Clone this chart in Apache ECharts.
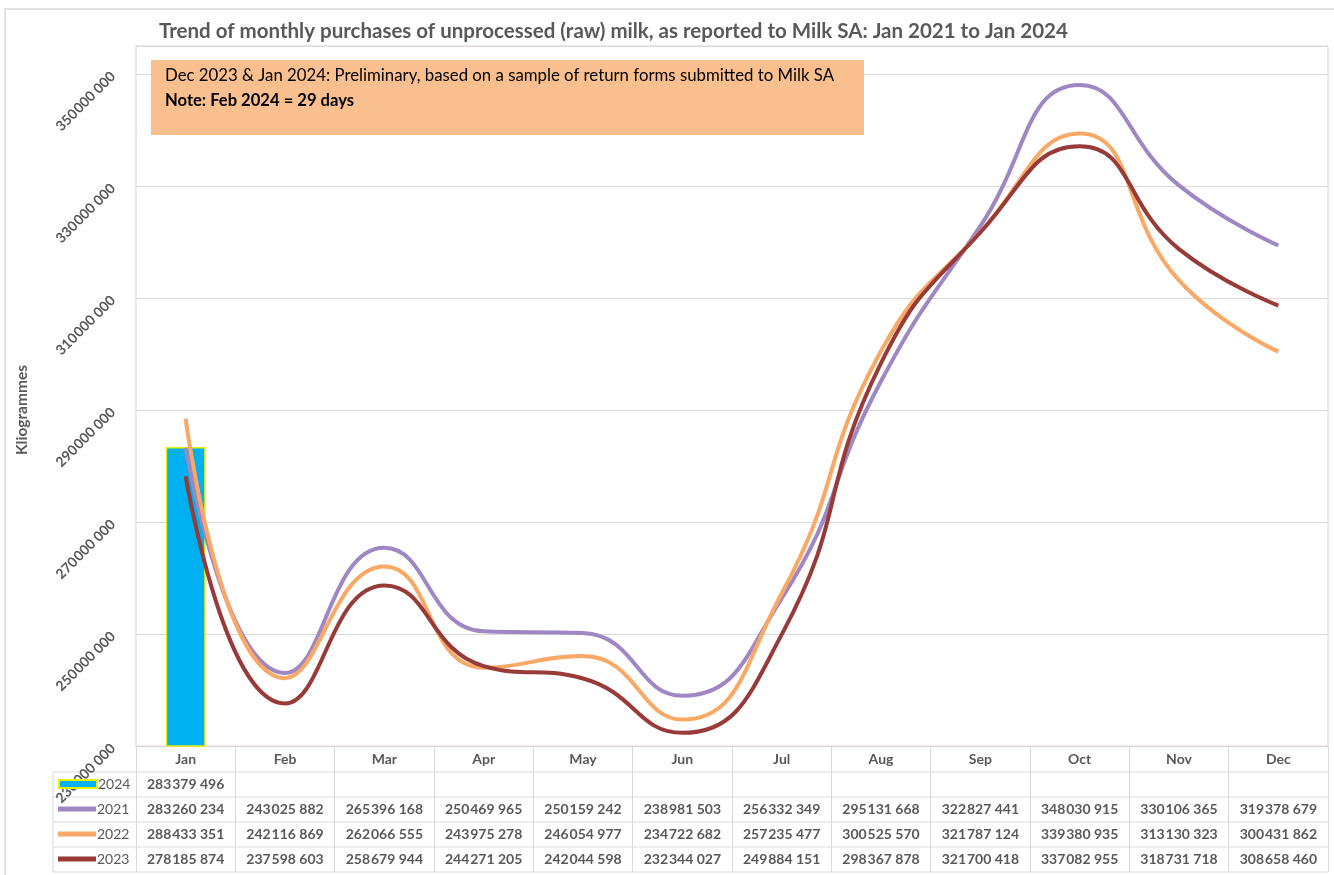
<!DOCTYPE html>
<html>
<head>
<meta charset="utf-8">
<script src="https://cdn.jsdelivr.net/npm/echarts@6/dist/echarts.min.js"></script>
<style>
  html, body { margin: 0; padding: 0; background: #fff; }
  #chart { width: 1334px; height: 875px; }
</style>
</head>
<body>
<div id="chart"></div>
<script>
// monthly raw milk purchases (kg)
var months = ['Jan', 'Feb', 'Mar', 'Apr', 'May', 'Jun', 'Jul', 'Aug', 'Sep', 'Oct', 'Nov', 'Dec'];
var y2024 = [283379496];
var y2021 = [283260234, 243025882, 265396168, 250469965, 250159242, 238981503, 256332349, 295131668, 322827441, 348030915, 330106365, 319378679];
var y2022 = [288433351, 242116869, 262066555, 243975278, 246054977, 234722682, 257235477, 300525570, 321787124, 339380935, 313130323, 300431862];
var y2023 = [278185874, 237598603, 258679944, 244271205, 242044598, 232344027, 249884151, 298367878, 321700418, 337082955, 318731718, 308658460];
var yMin = 230000000, yMax = 355000000, yStep = 20000000;

var grey = '#595959';
var font = 'Lato, "Open Sans", sans-serif';

function fmt(v) {
  if (v == null) return '\u00a0';
  var s = String(v);
  return s.slice(0, 3) + '\u200a' + s.slice(3, 6) + ' ' + s.slice(6);
}

var chart = echarts.init(document.getElementById('chart'));

// table row lines under the plot
var rowLines = [772, 797, 822, 847, 872].map(function(y) {
  return { type: 'line', shape: { x1: 53, y1: y, x2: 1328, y2: y }, style: { stroke: '#d9d9d9', lineWidth: 1 }, z: 0 };
});

function legendAt(top, name, h) {
  return {
    data: [name], left: 58, top: top, padding: 0,
    itemWidth: 38, itemHeight: h, itemGap: 0, icon: 'rect',
    textStyle: { color: grey, fontSize: 14, fontFamily: font, padding: [0, 0, 0, -4] },
    selectedMode: false
  };
}

var option = {
  animation: false,
  textStyle: { fontFamily: font },
  title: {
    text: 'Trend of monthly purchases of unprocessed (raw) milk, as reported to Milk SA: Jan 2021 to Jan 2024',
    left: 159, top: 21, padding: 0,
    textStyle: { color: grey, fontSize: 20.5, fontWeight: 'bold', fontFamily: font }
  },
  legend: [
    legendAt(777, '2024', 8),
    legendAt(802, '2021', 5),
    legendAt(827, '2022', 5),
    legendAt(852, '2023', 5)
  ],
  grid: {
    left: 136, right: 6, top: 46, bottom: 129,
    show: true, borderColor: '#eccaca', borderWidth: 1, backgroundColor: 'transparent'
  },
  xAxis: {
    type: 'category',
    data: months,
    boundaryGap: true,
    axisLine: { lineStyle: { color: '#d9d9d9' } },
    axisTick: { show: true, interval: 0, length: 126, lineStyle: { color: '#d9d9d9' } },
    axisLabel: {
      interval: 0, margin: 0, verticalAlign: 'top',
      formatter: function(value, i) {
        return '{m|' + value + '}\n{v|' + fmt(y2024[i]) + '}\n{v|' + fmt(y2021[i]) + '}\n{v|' + fmt(y2022[i]) + '}\n{v|' + fmt(y2023[i]) + '}';
      },
      rich: {
        m: { color: grey, fontSize: 14, fontWeight: 'bold', lineHeight: 26, fontFamily: font },
        v: { color: grey, fontSize: 14, fontWeight: 'bold', lineHeight: 25, fontFamily: font }
      }
    }
  },
  yAxis: {
    type: 'value',
    min: yMin, max: yMax, interval: yStep,
    name: 'Kliogrammes', nameLocation: 'middle', nameGap: 106,
    nameTextStyle: { color: grey, fontSize: 15.5, fontWeight: 'bold', fontFamily: font, padding: [0, 0, 0, -28] },
    axisLine: { show: false },
    axisTick: { show: false },
    splitLine: { lineStyle: { color: '#d9d9d9' } },
    axisLabel: {
      rotate: 45, margin: 23, showMaxLabel: false,
      color: grey, fontSize: 14, fontWeight: 'bold', fontFamily: font,
      formatter: function(v) { return fmt(v); }
    }
  },
  graphic: [
    { type: 'rect', shape: { x: 5, y: 9, width: 1400, height: 900 }, style: { fill: 'none', stroke: '#d9d9d9', lineWidth: 1.5 }, silent: true, z: -1 },
    { type: 'line', shape: { x1: 53, y1: 772, x2: 53, y2: 872 }, style: { stroke: '#d9d9d9', lineWidth: 1 } },
    { type: 'rect', shape: { x: 151, y: 60, width: 713, height: 75 }, style: { fill: '#f9bf8f' }, z: 10 },
    { type: 'text', x: 165, y: 67, z: 11, style: { text: 'Dec 2023 & Jan 2024: Preliminary, based on a sample of return forms submitted to Milk SA', fill: '#000', font: '16.8px ' + font } },
    { type: 'text', x: 165, y: 92, z: 11, style: { text: 'Note: Feb 2024 = 29 days', fill: '#000', font: 'bold 16.6px ' + font } }
  ].concat(rowLines),
  series: [
    {
      name: '2024', type: 'bar', data: y2024, barWidth: 40,
      itemStyle: { color: '#00b0f0', borderColor: '#e6f000', borderWidth: 1.5 }
    },
    {
      name: '2021', type: 'line', data: y2021, smooth: 0.5, showSymbol: false, symbol: 'none',
      lineStyle: { width: 4, color: '#9f87c3' }, itemStyle: { color: '#9f87c3' }
    },
    {
      name: '2022', type: 'line', data: y2022, smooth: 0.5, showSymbol: false, symbol: 'none',
      lineStyle: { width: 4, color: '#f9a866' }, itemStyle: { color: '#f9a866' }
    },
    {
      name: '2023', type: 'line', data: y2023, smooth: 0.5, showSymbol: false, symbol: 'none',
      lineStyle: { width: 4, color: '#983a37' }, itemStyle: { color: '#983a37' }
    }
  ]
};

chart.setOption(option);
</script>
</body>
</html>
